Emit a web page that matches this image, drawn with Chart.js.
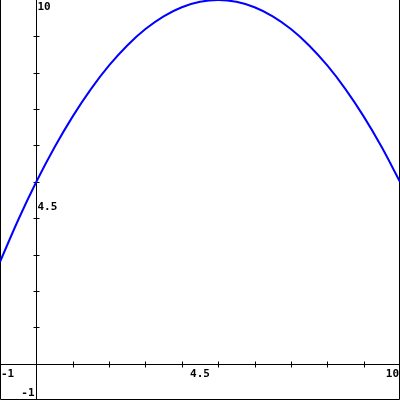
<!DOCTYPE html>
<html>
<head>
<meta charset="utf-8">
<script src="https://cdn.jsdelivr.net/npm/chart.js@4"></script>
<style>
html,body{margin:0;padding:0;background:#fff;}
#wrap{width:400px;height:400px;}
</style>
</head>
<body>
<div id="wrap"><canvas id="c" width="400" height="400"></canvas></div>
<script>
const xValues = [-1, -0.5, 0, 0.5, 1, 1.5, 2, 2.5, 3, 3.5, 4, 4.5, 5, 5.5, 6, 6.5, 7, 7.5, 8, 8.5, 9, 9.5, 10];
const yValues = [2.8, 3.95, 5.0, 5.95, 6.8, 7.55, 8.2, 8.75, 9.2, 9.55, 9.8, 9.95, 10.0, 9.95, 9.8, 9.55, 9.2, 8.75, 8.2, 7.55, 6.8, 5.95, 5.0];
const xTickValues = [1, 2, 3, 4, 5, 6, 7, 8, 9];
const yTickValues = [1, 2, 3, 4, 5, 6, 7, 8, 9];
const xTickLabels = [{v: -1, t: "-1"}, {v: 4.5, t: "4.5"}, {v: 10, t: "10"}];
const yTickLabels = [{v: 10, t: "10"}, {v: 4.5, t: "4.5"}, {v: -1, t: "-1"}];
const xMin = -1, xMax = 10, yMin = -1, yMax = 10;

const points = xValues.map((x, i) => ({x: x, y: yValues[i]}));

const axesPlugin = {
  id: 'axesPlugin',
  beforeDatasetsDraw(chart) {
    const ctx = chart.ctx;
    const xs = chart.scales.x, ys = chart.scales.y;
    const a = chart.chartArea;
    const x0 = Math.round(xs.getPixelForValue(0)) + 0.5;
    const y0 = Math.round(ys.getPixelForValue(0)) + 0.5;
    ctx.save();
    ctx.strokeStyle = '#000';
    ctx.lineWidth = 1;
    ctx.beginPath();
    ctx.moveTo(a.left, y0); ctx.lineTo(a.right, y0);
    ctx.moveTo(x0, a.top); ctx.lineTo(x0, a.bottom);
    xTickValues.forEach(v => {
      const px = Math.round(xs.getPixelForValue(v)) + 0.5;
      ctx.moveTo(px, y0 - 3); ctx.lineTo(px, y0 + 3);
    });
    yTickValues.forEach(v => {
      const py = Math.round(ys.getPixelForValue(v)) + 0.5;
      ctx.moveTo(x0 - 3, py); ctx.lineTo(x0 + 3, py);
    });
    // border: left, bottom, right (no top)
    ctx.moveTo(a.left + 0.5, a.top); ctx.lineTo(a.left + 0.5, a.bottom - 0.5);
    ctx.lineTo(a.right - 0.5, a.bottom - 0.5); ctx.lineTo(a.right - 0.5, a.top);
    ctx.stroke();
    ctx.fillStyle = '#000';
    ctx.font = "bold 11px 'DejaVu Sans Mono'";
    ctx.textBaseline = 'top';
    xTickLabels.forEach(l => {
      const px = xs.getPixelForValue(l.v);
      if (l.v === xMin) { ctx.textAlign = 'left'; ctx.fillText(l.t, px + 1, y0 + 4); }
      else if (l.v === xMax) { ctx.textAlign = 'right'; ctx.fillText(l.t, px - 1, y0 + 4); }
      else { ctx.textAlign = 'center'; ctx.fillText(l.t, px, y0 + 4); }
    });
    yTickLabels.forEach(l => {
      const py = ys.getPixelForValue(l.v);
      if (l.v === yMax) { ctx.textAlign = 'left'; ctx.fillText(l.t, x0 + 1, py + 2); }
      else if (l.v === yMin) { ctx.textAlign = 'right'; ctx.textBaseline = 'bottom'; ctx.fillText(l.t, x0 - 2, py - 1); ctx.textBaseline = 'top'; }
      else { ctx.textAlign = 'left'; ctx.fillText(l.t, x0 + 1, py + 2); }
    });
    ctx.restore();
  }
};

new Chart(document.getElementById('c'), {
  type: 'scatter',
  data: {
    datasets: [{
      data: points,
      showLine: true,
      borderColor: '#0000ff',
      borderWidth: 2,
      pointRadius: 0,
      cubicInterpolationMode: 'monotone',
      fill: false,
      clip: false
    }]
  },
  options: {
    responsive: false,
    animation: false,
    devicePixelRatio: 1,
    layout: {padding: 0},
    plugins: {legend: {display: false}, tooltip: {enabled: false}},
    scales: {
      x: {type: 'linear', min: xMin, max: xMax, display: false},
      y: {type: 'linear', min: yMin, max: yMax, display: false}
    }
  },
  plugins: [axesPlugin]
});
</script>
</body>
</html>
